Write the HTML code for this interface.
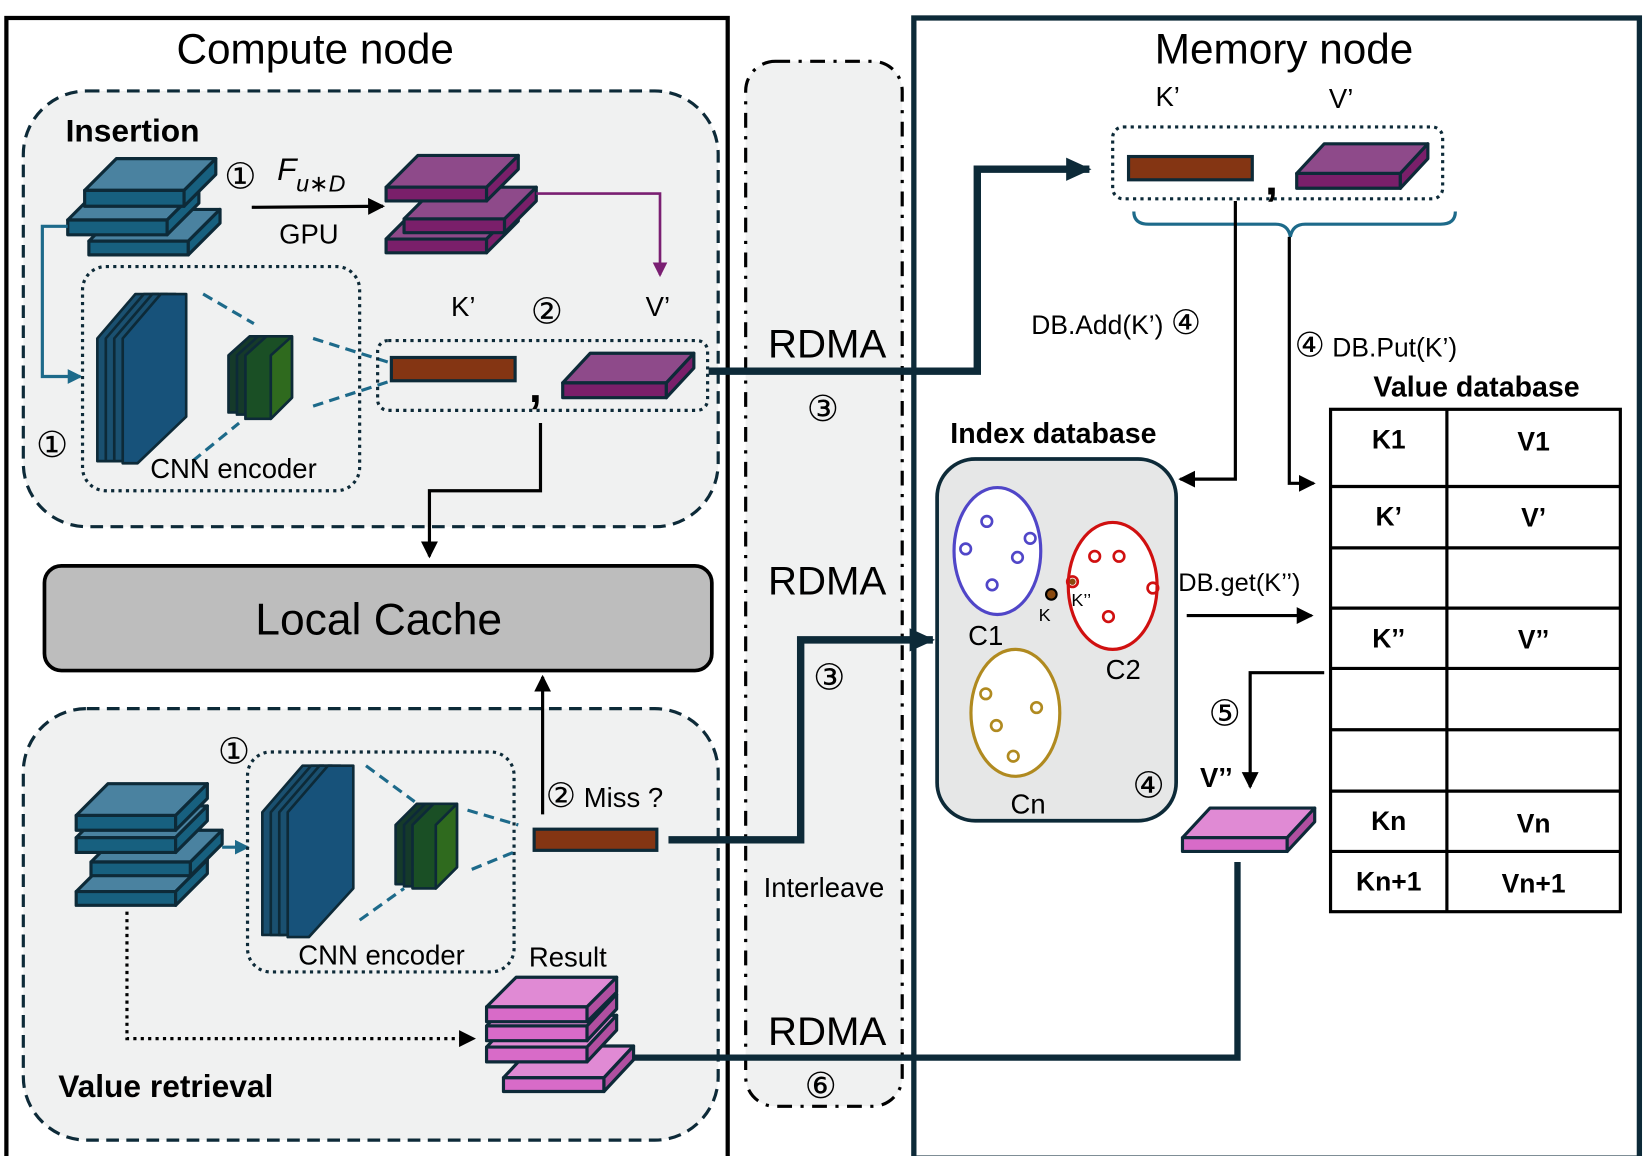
<!DOCTYPE html>
<html><head><meta charset="utf-8"><style>
html,body{margin:0;padding:0;background:#fff;}
svg{display:block;}
text{font-family:"Liberation Sans","DejaVu Sans",sans-serif;}
.c{font-size:34px;}
</style></head><body>
<svg width="1650" height="1156" viewBox="0 0 1560 1093" xmlns="http://www.w3.org/2000/svg">
<defs>
<marker id="ab" markerWidth="10" markerHeight="10" refX="8" refY="5" orient="auto" markerUnits="userSpaceOnUse"><path d="M0,0 L10,5 L0,10 z" fill="#000"/></marker>
<marker id="abig" markerWidth="24" markerHeight="22" refX="22" refY="11" orient="auto" markerUnits="userSpaceOnUse"><path d="M0,0 L24,11 L0,22 z" fill="#0d2a38"/></marker>
<marker id="ablue" markerWidth="14" markerHeight="14" refX="12" refY="7" orient="auto" markerUnits="userSpaceOnUse"><path d="M0,0 L14,7 L0,14 z" fill="#1d6a8a"/></marker>
<marker id="apur" markerWidth="14" markerHeight="14" refX="12" refY="7" orient="auto" markerUnits="userSpaceOnUse"><path d="M0,0 L14,7 L0,14 z" fill="#7a1f72"/></marker>
<marker id="amed" markerWidth="16" markerHeight="16" refX="14" refY="8" orient="auto" markerUnits="userSpaceOnUse"><path d="M0,0 L16,8 L0,16 z" fill="#000"/></marker>
</defs>

<rect x="6" y="17" width="682" height="1078" fill="#fff" stroke="#000" stroke-width="4"/>
<text x="298" y="60" font-size="40" text-anchor="middle">Compute node</text>
<rect x="864" y="17" width="686" height="1078" fill="#fff" stroke="#0d2a38" stroke-width="5"/>
<text x="1214" y="60" font-size="40" text-anchor="middle">Memory node</text>

<rect x="705" y="58" width="148" height="988" rx="28" fill="#f0f1f1" stroke="#000" stroke-width="3" stroke-dasharray="14,8,3,8"/>
<text x="782" y="338" font-size="38" text-anchor="middle">RDMA</text>
<text x="778" y="398" class="c" text-anchor="middle">③</text>
<text x="782" y="562" font-size="38" text-anchor="middle">RDMA</text>
<text x="784" y="652" class="c" text-anchor="middle">③</text>
<text x="779" y="848" font-size="26" text-anchor="middle">Interleave</text>
<text x="782" y="988" font-size="38" text-anchor="middle">RDMA</text>
<text x="776" y="1038" class="c" text-anchor="middle">⑥</text>

<rect x="22" y="86" width="657" height="412" rx="60" fill="#f0f1f1" stroke="#0d2a38" stroke-width="3" stroke-dasharray="12,7"/>
<text x="62" y="134" font-size="30" font-weight="bold">Insertion</text>

<g stroke="#0d2a38" stroke-width="3" stroke-linejoin="round">
<polygon points="84,228 114,198 208,198 178,228" fill="#4a82a0"/><rect x="84" y="228" width="94" height="13" fill="#17607f"/><polygon points="178,228 208,198 208,211 178,241" fill="#17607f"/>
<polygon points="64,208 94,178 188,178 158,208" fill="#4a82a0"/><rect x="64" y="208" width="94" height="14" fill="#17607f"/><polygon points="158,208 188,178 188,192 158,222" fill="#17607f"/>
<polygon points="80,180 110,150 204,150 174,180" fill="#4a82a0"/><rect x="80" y="180" width="94" height="15" fill="#17607f"/><polygon points="174,180 204,150 204,165 174,195" fill="#17607f"/>
</g>
<text x="212" y="178" class="c">①</text>
<text x="262" y="170" font-size="30" font-family="Liberation Serif" font-style="italic">F</text>
<text x="280" y="181" font-size="22" font-family="Liberation Serif" font-style="italic">u∗D</text>
<line x1="238" y1="196" x2="362" y2="195" stroke="#000" stroke-width="3" marker-end="url(#amed)"/>
<text x="292" y="230" font-size="26" text-anchor="middle">GPU</text>

<g stroke="#0d2a38" stroke-width="3" stroke-linejoin="round">
<polygon points="365,226 395,196 490,196 460,226" fill="#8e4a8a"/><rect x="365" y="226" width="95" height="13" fill="#7a1f6a"/><polygon points="460,226 490,196 490,209 460,239" fill="#7a1f6a"/>
<polygon points="382,207 412,177 507,177 477,207" fill="#8e4a8a"/><rect x="382" y="207" width="95" height="13" fill="#7a1f6a"/><polygon points="477,207 507,177 507,190 477,220" fill="#7a1f6a"/>
<polygon points="365,177 395,147 490,147 460,177" fill="#8e4a8a"/><rect x="365" y="177" width="95" height="13" fill="#7a1f6a"/><polygon points="460,177 490,147 490,160 460,190" fill="#7a1f6a"/>
</g>
<polyline points="507,183 624,183 624,260" fill="none" stroke="#7a1f72" stroke-width="2.5" marker-end="url(#apur)"/>

<polyline points="64,214 40,214 40,356 76,356" fill="none" stroke="#1d6a8a" stroke-width="3" marker-end="url(#ablue)"/>
<text x="34" y="432" class="c">①</text>

<rect x="78" y="252" width="262" height="212" rx="22" fill="none" stroke="#0d2a38" stroke-width="3" stroke-dasharray="3,4"/>
<g stroke="#0d2a38" stroke-width="2.5" stroke-linejoin="round">
<polygon points="92,320 128,278 150,278 114,320 114,436 92,436" fill="#1a5070"/>
<polygon points="100,320 136,278 158,278 122,320 122,436 100,436" fill="#1a5070"/>
<polygon points="108,320 144,278 166,278 130,320 130,436 108,436" fill="#1a5070"/>
<polygon points="116,320 152,278 176,278 176,394 130,438 116,438" fill="#17527a"/>
<polygon points="216,336 236,318 256,318 236,336 236,390 216,390" fill="#153a2a"/>
<polygon points="224,336 244,318 264,318 244,336 244,392 224,392" fill="#153a2a"/>
<polygon points="232,336 252,318 276,318 276,376 256,396 232,396" fill="#1a4f25"/>
<polygon points="256,336 276,318 276,376 256,396" fill="#2f6a1e"/>
</g>
<g stroke="#1d6a8a" stroke-width="3" stroke-dasharray="10,6" fill="none">
<line x1="192" y1="278" x2="240" y2="306"/><line x1="182" y1="436" x2="226" y2="400"/>
<line x1="296" y1="320" x2="372" y2="344"/><line x1="296" y1="384" x2="370" y2="360"/>
</g>
<text x="142" y="452" font-size="26">CNN encoder</text>

<text x="438" y="299" font-size="26" text-anchor="middle">K’</text>
<text x="517" y="306" class="c" text-anchor="middle">②</text>
<text x="622" y="299" font-size="26" text-anchor="middle">V’</text>
<rect x="357" y="322" width="312" height="66" rx="10" fill="none" stroke="#0d2a38" stroke-width="3" stroke-dasharray="3,4"/>
<rect x="370" y="338" width="117" height="22" fill="#843513" stroke="#0d2a38" stroke-width="3"/>
<text x="500" y="380" font-size="44" font-weight="bold">,</text>
<g stroke="#0d2a38" stroke-width="3" stroke-linejoin="round">
<polygon points="532,362 558,334 656,334 630,362" fill="#8e4a8a"/><rect x="532" y="362" width="98" height="14" fill="#7a1f6a"/><polygon points="630,362 656,334 656,348 630,376" fill="#7a1f6a"/>
</g>
<polyline points="511,400 511,464 406,464 406,526" fill="none" stroke="#000" stroke-width="3" marker-end="url(#amed)"/>

<polyline points="670,351 924,351 924,160 1030,160" fill="none" stroke="#0d2a38" stroke-width="7" marker-end="url(#abig)"/>

<rect x="42" y="535" width="631" height="99" rx="16" fill="#bdbdbd" stroke="#000" stroke-width="3.5"/>
<text x="358" y="600" font-size="42" text-anchor="middle">Local Cache</text>

<rect x="22" y="670" width="657" height="408" rx="60" fill="#f0f1f1" stroke="#0d2a38" stroke-width="3" stroke-dasharray="12,7"/>
<text x="55" y="1037" font-size="30" font-weight="bold">Value retrieval</text>

<g stroke="#0d2a38" stroke-width="3" stroke-linejoin="round">
<polygon points="72,843 102,813 196,813 166,843" fill="#4a82a0"/><rect x="72" y="843" width="94" height="13" fill="#17607f"/><polygon points="166,843 196,813 196,826 166,856" fill="#17607f"/>
<polygon points="86,815 116,785 210,785 180,815" fill="#4a82a0"/><rect x="86" y="815" width="94" height="13" fill="#17607f"/><polygon points="180,815 210,785 210,798 180,828" fill="#17607f"/>
<polygon points="72,792 102,762 196,762 166,792" fill="#4a82a0"/><rect x="72" y="792" width="94" height="14" fill="#17607f"/><polygon points="166,792 196,762 196,776 166,806" fill="#17607f"/>
<polygon points="72,771 102,741 196,741 166,771" fill="#4a82a0"/><rect x="72" y="771" width="94" height="14" fill="#17607f"/><polygon points="166,771 196,741 196,755 166,785" fill="#17607f"/>
</g>
<line x1="210" y1="801" x2="234" y2="801" stroke="#1d6a8a" stroke-width="3" marker-end="url(#ablue)"/>
<text x="206" y="722" class="c">①</text>
<rect x="234" y="711" width="252" height="208" rx="22" fill="none" stroke="#0d2a38" stroke-width="3" stroke-dasharray="3,4"/>
<g stroke="#0d2a38" stroke-width="2.5" stroke-linejoin="round">
<polygon points="248,768 286,724 306,724 268,768 268,884 248,884" fill="#1a5070"/>
<polygon points="256,768 294,724 314,724 276,768 276,884 256,884" fill="#1a5070"/>
<polygon points="264,768 302,724 322,724 284,768 284,884 264,884" fill="#1a5070"/>
<polygon points="272,768 310,724 334,724 334,840 292,886 272,886" fill="#17527a"/>
<polygon points="374,780 394,760 414,760 394,780 394,836 374,836" fill="#153a2a"/>
<polygon points="382,780 402,760 422,760 402,780 402,838 382,838" fill="#153a2a"/>
<polygon points="390,780 410,760 432,760 432,820 412,840 390,840" fill="#1a4f25"/>
<polygon points="412,780 432,760 432,820 412,840" fill="#2f6a1e"/>
</g>
<g stroke="#1d6a8a" stroke-width="3" stroke-dasharray="10,6" fill="none">
<line x1="346" y1="724" x2="392" y2="758"/><line x1="340" y1="870" x2="382" y2="840"/>
<line x1="442" y1="766" x2="490" y2="780"/><line x1="446" y1="822" x2="490" y2="804"/>
</g>
<text x="282" y="912" font-size="26">CNN encoder</text>
<text x="516" y="763" font-size="26"><tspan font-size="32">②</tspan> Miss ?</text>
<line x1="513" y1="770" x2="513" y2="640" stroke="#000" stroke-width="3" marker-end="url(#amed)"/>
<rect x="505" y="784" width="116" height="20" fill="#843513" stroke="#0d2a38" stroke-width="3"/>
<polyline points="632,794 757,794 757,605 882,605" fill="none" stroke="#0d2a38" stroke-width="7" marker-end="url(#abig)"/>

<text x="500" y="914" font-size="26">Result</text>
<polyline points="120,862 120,982 448,982" fill="none" stroke="#000" stroke-width="3" stroke-dasharray="3,4" marker-end="url(#amed)"/>
<g stroke="#0d2a38" stroke-width="3" stroke-linejoin="round">
<polygon points="476,1019 504,989 599,989 571,1019" fill="#e08ad4"/><rect x="476" y="1019" width="95" height="13" fill="#d86bc8"/><polygon points="571,1019 599,989 599,1002 571,1032" fill="#b04fa0"/>
<polygon points="460,990 488,960 583,960 555,990" fill="#e08ad4"/><rect x="460" y="990" width="95" height="14" fill="#d86bc8"/><polygon points="555,990 583,960 583,974 555,1004" fill="#b04fa0"/>
<polygon points="460,970 488,940 583,940 555,970" fill="#e08ad4"/><rect x="460" y="970" width="95" height="14" fill="#d86bc8"/><polygon points="555,970 583,940 583,954 555,984" fill="#b04fa0"/>
<polygon points="460,952 488,924 583,924 555,952" fill="#e08ad4"/><rect x="460" y="952" width="95" height="14" fill="#d86bc8"/><polygon points="555,952 583,924 583,938 555,966" fill="#b04fa0"/>
</g>
<polyline points="600,1000 1170,1000 1170,815" fill="none" stroke="#0d2a38" stroke-width="6"/>

<text x="1104" y="100" font-size="26" text-anchor="middle">K’</text>
<text x="1268" y="102" font-size="26" text-anchor="middle">V’</text>
<rect x="1052" y="120" width="312" height="68" rx="10" fill="none" stroke="#0d2a38" stroke-width="3" stroke-dasharray="3,4"/>
<rect x="1067" y="148" width="117" height="22" fill="#843513" stroke="#0d2a38" stroke-width="3"/>
<text x="1196" y="184" font-size="44" font-weight="bold">,</text>
<g stroke="#0d2a38" stroke-width="3" stroke-linejoin="round">
<polygon points="1226,164 1252,136 1350,136 1324,164" fill="#8e4a8a"/><rect x="1226" y="164" width="98" height="14" fill="#7a1f6a"/><polygon points="1324,164 1350,136 1350,150 1324,178" fill="#7a1f6a"/>
</g>
<path d="M1072,200 Q1072,212 1086,212 L1206,212 Q1218,212 1220,224 Q1222,212 1234,212 L1362,212 Q1376,212 1376,200" fill="none" stroke="#1d6a8a" stroke-width="3"/>
<polyline points="1168,190 1168,453 1116,453" fill="none" stroke="#000" stroke-width="3" marker-end="url(#amed)"/>
<polyline points="1219,224 1219,457 1242,457" fill="none" stroke="#000" stroke-width="3" marker-end="url(#amed)"/>
<text x="975" y="316" font-size="25">DB.Add(K’) <tspan font-size="32">④</tspan></text>
<text x="1224" y="337" font-size="25"><tspan font-size="32">④</tspan> DB.Put(K’)</text>
<text x="1396" y="375" font-size="27" font-weight="bold" text-anchor="middle">Value database</text>
<text x="996" y="419" font-size="27" font-weight="bold" text-anchor="middle">Index database</text>

<rect x="886" y="434" width="226" height="342" rx="36" fill="#e6e7e7" stroke="#0d2a38" stroke-width="3.5"/>
<ellipse cx="943" cy="521" rx="41" ry="60" fill="#fff" stroke="#5046c8" stroke-width="3"/>
<g fill="none" stroke="#5046c8" stroke-width="2.5"><circle cx="933" cy="493" r="5"/><circle cx="913" cy="519" r="5"/><circle cx="962" cy="527" r="5"/><circle cx="974" cy="509" r="5"/><circle cx="938" cy="553" r="5"/></g>
<ellipse cx="1052" cy="554" rx="42" ry="60" fill="#fff" stroke="#d01010" stroke-width="3"/>
<g fill="none" stroke="#d01010" stroke-width="2.5"><circle cx="1035" cy="526" r="5"/><circle cx="1058" cy="526" r="5"/><circle cx="1090" cy="556" r="5"/><circle cx="1048" cy="583" r="5"/><circle cx="1014" cy="550" r="5"/></g>
<circle cx="1014" cy="550" r="3" fill="#8a4a10"/>
<ellipse cx="960" cy="674" rx="42" ry="60" fill="#fff" stroke="#b08a20" stroke-width="3"/>
<g fill="none" stroke="#b08a20" stroke-width="2.5"><circle cx="932" cy="656" r="5"/><circle cx="980" cy="669" r="5"/><circle cx="942" cy="686" r="5"/><circle cx="958" cy="715" r="5"/></g>
<circle cx="994" cy="562" r="5" fill="#8a4a10" stroke="#000" stroke-width="2"/>
<text x="982" y="587" font-size="17">K</text>
<text x="1013" y="573" font-size="17">K’’</text>
<text x="932" y="610" font-size="26" text-anchor="middle">C1</text>
<text x="1062" y="642" font-size="26" text-anchor="middle">C2</text>
<text x="972" y="769" font-size="26" text-anchor="middle">Cn</text>
<text x="1086" y="754" class="c" text-anchor="middle">④</text>
<text x="1114" y="559" font-size="24">DB.get(K’’)</text>
<line x1="1122" y1="582" x2="1240" y2="582" stroke="#000" stroke-width="3" marker-end="url(#amed)"/>

<g stroke="#000" stroke-width="3" fill="none">
<rect x="1258" y="387" width="274" height="475" fill="#fff"/>
<line x1="1368" y1="387" x2="1368" y2="862"/>
<line x1="1258" y1="460" x2="1532" y2="460"/><line x1="1258" y1="518" x2="1532" y2="518"/>
<line x1="1258" y1="575" x2="1532" y2="575"/><line x1="1258" y1="632" x2="1532" y2="632"/>
<line x1="1258" y1="690" x2="1532" y2="690"/><line x1="1258" y1="748" x2="1532" y2="748"/>
<line x1="1258" y1="805" x2="1532" y2="805"/>
</g>
<g font-size="25" font-weight="bold" text-anchor="middle">
<text x="1313" y="424">K1</text><text x="1450" y="426">V1</text>
<text x="1313" y="497">K’</text><text x="1450" y="498">V’</text>
<text x="1313" y="612">K’’</text><text x="1450" y="613">V’’</text>
<text x="1313" y="785">Kn</text><text x="1450" y="787">Vn</text>
<text x="1313" y="842">Kn+1</text><text x="1450" y="844">Vn+1</text>
</g>

<polyline points="1252,636 1182,636 1182,744" fill="none" stroke="#000" stroke-width="3" marker-end="url(#amed)"/>
<text x="1158" y="686" class="c" text-anchor="middle">⑤</text>
<text x="1150" y="744" font-size="26" font-weight="bold" text-anchor="middle">V’’</text>
<g stroke="#0d2a38" stroke-width="3" stroke-linejoin="round">
<polygon points="1118,792 1144,764 1243,764 1217,792" fill="#e08ad4"/><rect x="1118" y="792" width="99" height="13" fill="#d86bc8"/><polygon points="1217,792 1243,764 1243,777 1217,805" fill="#b04fa0"/>
</g>
</svg>
</body></html>
